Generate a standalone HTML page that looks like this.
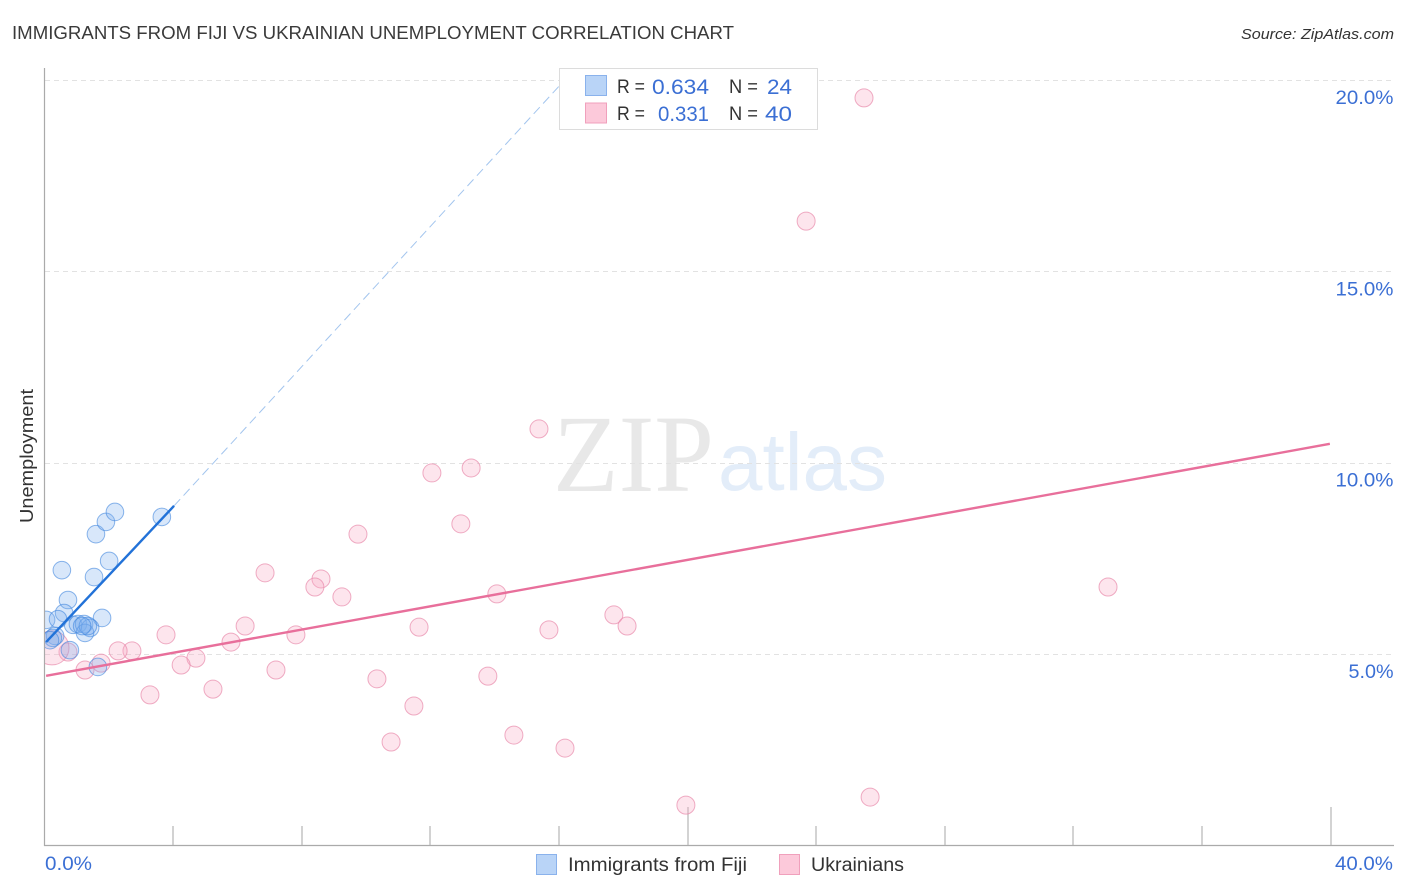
<!DOCTYPE html>
<html lang="en">
<head>
<meta charset="utf-8">
<title>Immigrants from Fiji vs Ukrainian Unemployment Correlation Chart</title>
<style>
html,body{margin:0;padding:0;background:#fff;width:1406px;height:892px;overflow:hidden}
svg{display:block}
text{font-family:"Liberation Sans",sans-serif}
</style>
</head>
<body>
<svg id="chart" width="1406" height="892" viewBox="0 0 1406 892" xmlns="http://www.w3.org/2000/svg">
<defs><clipPath id="plot-clip"><rect x="45" y="60" width="1349" height="785"/></clipPath></defs>

<text x="12" y="39" font-size="18" fill="#3a3a3a" textLength="722" lengthAdjust="spacingAndGlyphs">IMMIGRANTS FROM FIJI VS UKRAINIAN UNEMPLOYMENT CORRELATION CHART</text>
<text x="1394" y="39" font-size="15" font-style="italic" fill="#333" text-anchor="end" textLength="153" lengthAdjust="spacingAndGlyphs">Source: ZipAtlas.com</text>

<g id="watermark">
<text x="553" y="491" font-size="110" fill="#e8e8e8" style="font-family:'Liberation Serif',serif" textLength="161" lengthAdjust="spacingAndGlyphs">ZIP</text>
<text x="718" y="490" font-size="82" fill="#e3edf9" textLength="169" lengthAdjust="spacingAndGlyphs">atlas</text>
</g>

<g id="grid"></g>
<g id="axes"></g>
<g id="points" clip-path="url(#plot-clip)"></g>
<g id="trends"></g>
<g id="y-labels"></g>

<text transform="translate(33,456) rotate(-90)" font-size="18.5" fill="#333" text-anchor="middle" textLength="134" lengthAdjust="spacingAndGlyphs">Unemployment</text>
<text x="45" y="870" font-size="19.5" fill="#3b6fd4" textLength="47" lengthAdjust="spacingAndGlyphs">0.0%</text>
<text x="1393" y="870" font-size="19.5" fill="#3b6fd4" text-anchor="end" textLength="58" lengthAdjust="spacingAndGlyphs">40.0%</text>

<g>
<rect x="559.5" y="68.5" width="258" height="61" fill="#fff" stroke="#dcdcdc"/>
<rect x="585.5" y="75.5" width="21" height="20" fill="#b9d4f7" stroke="#8ab2ec"/>
<rect x="585.5" y="103" width="21" height="20" fill="#fcc9da" stroke="#f0a0bc"/>
<text x="617" y="93" font-size="19" fill="#333" textLength="28" lengthAdjust="spacingAndGlyphs">R =</text>
<text x="652" y="94" font-size="21" fill="#3b6fd4" textLength="57" lengthAdjust="spacingAndGlyphs">0.634</text>
<text x="729" y="93" font-size="19" fill="#333" textLength="29" lengthAdjust="spacingAndGlyphs">N =</text>
<text x="767" y="94" font-size="21" fill="#3b6fd4" textLength="25" lengthAdjust="spacingAndGlyphs">24</text>
<text x="617" y="120" font-size="19" fill="#333" textLength="28" lengthAdjust="spacingAndGlyphs">R =</text>
<text x="658" y="121" font-size="21" fill="#3b6fd4" textLength="51" lengthAdjust="spacingAndGlyphs">0.331</text>
<text x="729" y="120" font-size="19" fill="#333" textLength="29" lengthAdjust="spacingAndGlyphs">N =</text>
<text x="765" y="121" font-size="21" fill="#3b6fd4" textLength="27" lengthAdjust="spacingAndGlyphs">40</text>
</g>

<g>
<rect x="536.5" y="854.5" width="20" height="20" fill="#b9d4f7" stroke="#8ab2ec"/>
<text x="568" y="871" font-size="19" fill="#333" textLength="179" lengthAdjust="spacingAndGlyphs">Immigrants from Fiji</text>
<rect x="779.5" y="854.5" width="20" height="20" fill="#fcc9da" stroke="#f0a0bc"/>
<text x="811" y="871" font-size="19" fill="#333" textLength="93" lengthAdjust="spacingAndGlyphs">Ukrainians</text>
</g>
</svg>

<script>
const fijiX = [0.05,0.54,0.73,0.61,0.42,1.54,2.01,1.60,1.91,2.19,3.65,1.79,0.89,1.04,1.23,1.42,1.26,1.35,1.17,0.33,0.26,0.17,0.79,1.66];
const fijiY = [5.89,7.19,6.41,6.07,5.91,7.01,7.43,8.13,8.45,8.71,8.58,5.94,5.76,5.78,5.78,5.68,5.55,5.73,5.73,5.47,5.42,5.36,5.10,4.66];
const ukrX = [25.49,23.69,15.38,13.27,12.05,12.95,9.75,6.86,8.60,8.41,9.25,14.07,33.08,17.71,18.12,15.69,11.65,6.24,7.82,5.80,3.78,2.72,2.29,4.71,4.25,1.76,1.26,7.20,10.34,13.79,5.24,3.28,11.49,10.78,14.60,16.19,19.95,25.68,0.73,0.23];
const ukrY = [19.53,16.31,10.88,9.86,9.73,8.40,8.13,7.12,6.96,6.75,6.49,6.57,6.75,6.02,5.73,5.63,5.70,5.73,5.50,5.31,5.50,5.08,5.08,4.89,4.71,4.76,4.58,4.58,4.35,4.42,4.08,3.93,3.64,2.70,2.88,2.54,1.05,1.26,5.05,5.16];
const ukrWeight = [1,1,1,1,1,1,1,1,1,1,1,1,1,1,1,1,1,1,1,1,1,1,1,1,1,1,1,1,1,1,1,1,1,1,1,1,1,1,1,1.9];
const fijiTrendX = [0.05,4.03];
const fijiTrendY = [5.31,8.87];
const fijiDashX = [4.03,16.03];
const fijiDashY = [8.87,19.86];
const ukrTrendX = [0.05,39.98];
const ukrTrendY = [4.43,10.49];
const yTicks = [5,10,15,20];
const yTickLabels = ["5.0%","10.0%","15.0%","20.0%"];
const xTicks = [4,8,12,16,20,24,28,32,36,40];
const xTallTicks = [20,40];

const NS = "http://www.w3.org/2000/svg";
const sx = v => 44.5 + v * 32.15;
const sy = v => 845.3 - v * 38.27;
function make(tag, parent, attrs){
  const el = document.createElementNS(NS, tag);
  for (const k in attrs) el.setAttribute(k, attrs[k]);
  parent.appendChild(el);
  return el;
}
const grid = document.getElementById("grid");
const axes = document.getElementById("axes");
const points = document.getElementById("points");
const trends = document.getElementById("trends");
const yLabels = document.getElementById("y-labels");

yTicks.forEach((t, i) => {
  const y = Math.round(sy(t)) + 0.5;
  const line = make("line", grid, {x1:45, x2:1394, y1:y, y2:y, stroke:"#e2e2e2", "stroke-width":1, "stroke-dasharray":"5 4"});
  
  
  const label = make("text", yLabels, {x:1393.5, y:sy(t)+24, "font-size":19.5, fill:"#3b6fd4", "text-anchor":"end", textLength:yTickLabels[i].length > 4 ? 58 : 45, lengthAdjust:"spacingAndGlyphs"});
  label.textContent = yTickLabels[i];
  
  
});

const yAxis = make("line", axes, {x1:44.5, x2:44.5, y1:68, y2:846, stroke:"#aaa", "stroke-width":1.2});


const xAxis = make("line", axes, {x1:44, x2:1394, y1:845.5, y2:845.5, stroke:"#aaa", "stroke-width":1.2});


xTicks.forEach(t => {
  const tall = xTallTicks.includes(t);
  const x = Math.round(sx(t));
  const tick = make("line", axes, {x1:x, x2:x, y1:tall ? 807 : 826, y2:845, stroke:"#b5b5b5", "stroke-width":1.2});
  
  
});

ukrX.forEach((v, i) => {
  const c = make("circle", points, {cx:sx(v), cy:sy(ukrY[i]), r:9*ukrWeight[i], fill:"#f9a8c4", "fill-opacity":0.3, stroke:"#e88aab", "stroke-opacity":0.7, "stroke-width":1});
  
  
});
fijiX.forEach((v, i) => {
  const c = make("circle", points, {cx:sx(v), cy:sy(fijiY[i]), r:8.8, fill:"#7fb0ee", "fill-opacity":0.3, stroke:"#3f85dd", "stroke-opacity":0.6, "stroke-width":1});
  
  
});

const dash = make("line", trends, {x1:sx(fijiDashX[0]), y1:sy(fijiDashY[0]), x2:sx(fijiDashX[1]), y2:sy(fijiDashY[1]), stroke:"#a3c5ee", "stroke-width":1, "stroke-dasharray":"9 5"});


const fijiLine = make("line", trends, {x1:sx(fijiTrendX[0]), y1:sy(fijiTrendY[0]), x2:sx(fijiTrendX[1]), y2:sy(fijiTrendY[1]), stroke:"#2272d8", "stroke-width":2.4});


const ukrLine = make("line", trends, {x1:sx(ukrTrendX[0]), y1:sy(ukrTrendY[0]), x2:sx(ukrTrendX[1]), y2:sy(ukrTrendY[1]), stroke:"#e86f9b", "stroke-width":2.4});


</script>
</body>
</html>
